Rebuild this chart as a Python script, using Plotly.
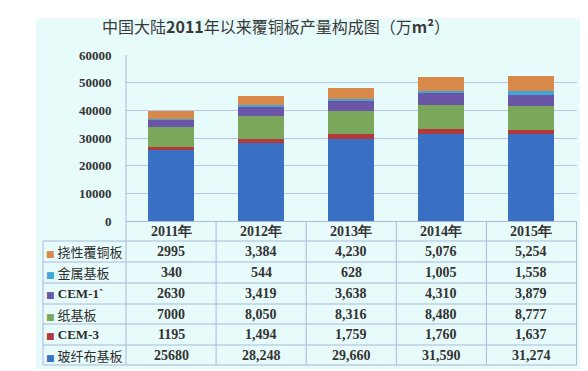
import plotly.graph_objects as go

years = ["2011年", "2012年", "2013年", "2014年", "2015年"]
# bottom -> top stacking order
series_names = ["玻纤布基板", "CEM-3", "纸基板", "CEM-1`", "金属基板", "挠性覆铜板"]
glass = [25680, 28248, 29660, 31590, 31274]
cem3 = [1195, 1494, 1759, 1760, 1637]
paper = [7000, 8050, 8316, 8480, 8777]
cem1 = [2630, 3419, 3638, 4310, 3879]
metal = [340, 544, 628, 1005, 1558]
flex = [2995, 3384, 4230, 5076, 5254]
colors = ["#3a70c4", "#b23a3c", "#7ba75a", "#6a55a6", "#3fa6d6", "#d8894a"]
y_ticks = [0, 10000, 20000, 30000, 40000, 50000, 60000]

series_vals = [glass, cem3, paper, cem1, metal, flex]

W, H = 588, 371
L, R, T, B = 118, 569, 47, 213
pw, ph = R - L, B - T

def px_x(p):
    return (p - L) / pw

def px_y(p):
    return (B - p) / ph

fig = go.Figure()
for name, vals, c in zip(series_names, series_vals, colors):
    fig.add_trace(go.Bar(x=years, y=vals, name=name, marker=dict(color=c, line=dict(width=0)),
                         width=0.51))

grid_c = "#b9c6e6"
line_c = "#aab8de"
shapes = []
# background panel
shapes.append(dict(type="rect", xref="paper", yref="paper", x0=px_x(28), x1=px_x(574),
                   y0=px_y(361), y1=px_y(10), fillcolor="#e8fbfb", line=dict(width=0), layer="below"))

row_bounds = [213, 233, 254, 275, 296, 316, 337, 357]
# horizontal table lines
for yb in row_bounds[1:]:
    shapes.append(dict(type="line", xref="paper", yref="paper", x0=px_x(35), x1=1,
                       y0=px_y(yb), y1=px_y(yb), line=dict(color=line_c, width=1)))
# vertical lines
shapes.append(dict(type="line", xref="paper", yref="paper", x0=px_x(35), x1=px_x(35),
                   y0=px_y(233), y1=px_y(357), line=dict(color=line_c, width=1)))
shapes.append(dict(type="line", xref="paper", yref="paper", x0=0, x1=0,
                   y0=1, y1=px_y(357), line=dict(color=line_c, width=1)))
for k in range(len(years)):
    xb = k + 0.5
    shapes.append(dict(type="line", xref="x", yref="paper", x0=xb, x1=xb,
                       y0=0, y1=px_y(357), line=dict(color=line_c, width=1)))

annotations = []
num_font = dict(family="Liberation Serif", size=14, color="#333333")
# header years
for yr in years:
    annotations.append(dict(x=yr, xref="x", y=px_y(223), yref="paper", text="<b>%s</b>" % yr,
                            showarrow=False, font=num_font, xanchor="center", yanchor="middle"))
# rows: top row = flex ... bottom = glass
row_order = list(range(len(series_names)))[::-1]
for r, si in enumerate(row_order):
    ymid = (row_bounds[r + 1] + row_bounds[r + 2]) / 2
    name = series_names[si]
    is_cjk = not name.startswith("CEM")
    fam = "Noto Sans CJK SC" if is_cjk else "Liberation Serif"
    label = ("<span style='color:%s;font-family:DejaVu Sans;font-size:9px'>■</span> %s"
             % (colors[si], ("<b>%s</b>" % name) if not is_cjk else name))
    annotations.append(dict(x=px_x(36), xref="paper", y=px_y(ymid), yref="paper", text=label,
                            showarrow=False, xanchor="left", yanchor="middle",
                            font=dict(family=fam, size=13, color="#2e2e2e")))
    for k, yr in enumerate(years):
        v = series_vals[si][k]
        txt = str(v) if k == 0 else "{:,}".format(v)
        annotations.append(dict(x=yr, xref="x", y=px_y(ymid), yref="paper", text="<b>%s</b>" % txt,
                                showarrow=False, font=num_font, xanchor="center", yanchor="middle"))

annotations.append(dict(x=px_x(268), xref="paper", y=px_y(18), yref="paper",
                        text="中国大陆<b>2011</b>年以来覆铜板产量构成图（万<b>m²</b>）",
                        showarrow=False, xanchor="center", yanchor="middle",
                        font=dict(family="Noto Sans CJK SC", size=16, color="#3a3a3a")))
annotations.append(dict(x=px_x(576), xref="paper", y=px_y(358), yref="paper", text="↵",
                        showarrow=False, xanchor="center", yanchor="middle", borderpad=0,
                        font=dict(family="DejaVu Sans", size=8, color="#555555")))

fig.update_layout(
    width=W, height=H,
    margin=dict(l=L, r=W - R, t=T, b=H - B, pad=0),
    paper_bgcolor="white", plot_bgcolor="rgba(0,0,0,0)",
    barmode="stack", bargap=0.49, showlegend=False,
    shapes=shapes, annotations=annotations,
    xaxis=dict(showticklabels=False, showgrid=False, showline=True, linecolor=line_c,
               linewidth=1, zeroline=False, fixedrange=True),
    yaxis=dict(range=[0, 60000], tickvals=y_ticks, ticktext=["<b>%d</b>" % v for v in y_ticks],
               showgrid=True, gridcolor=grid_c, gridwidth=1, zeroline=False, showline=False,
               ticks="outside", ticklen=11, tickcolor="rgba(0,0,0,0)",
               tickfont=dict(family="Liberation Serif", size=13, color="#333333")),
)

fig.write_html("out.html")
